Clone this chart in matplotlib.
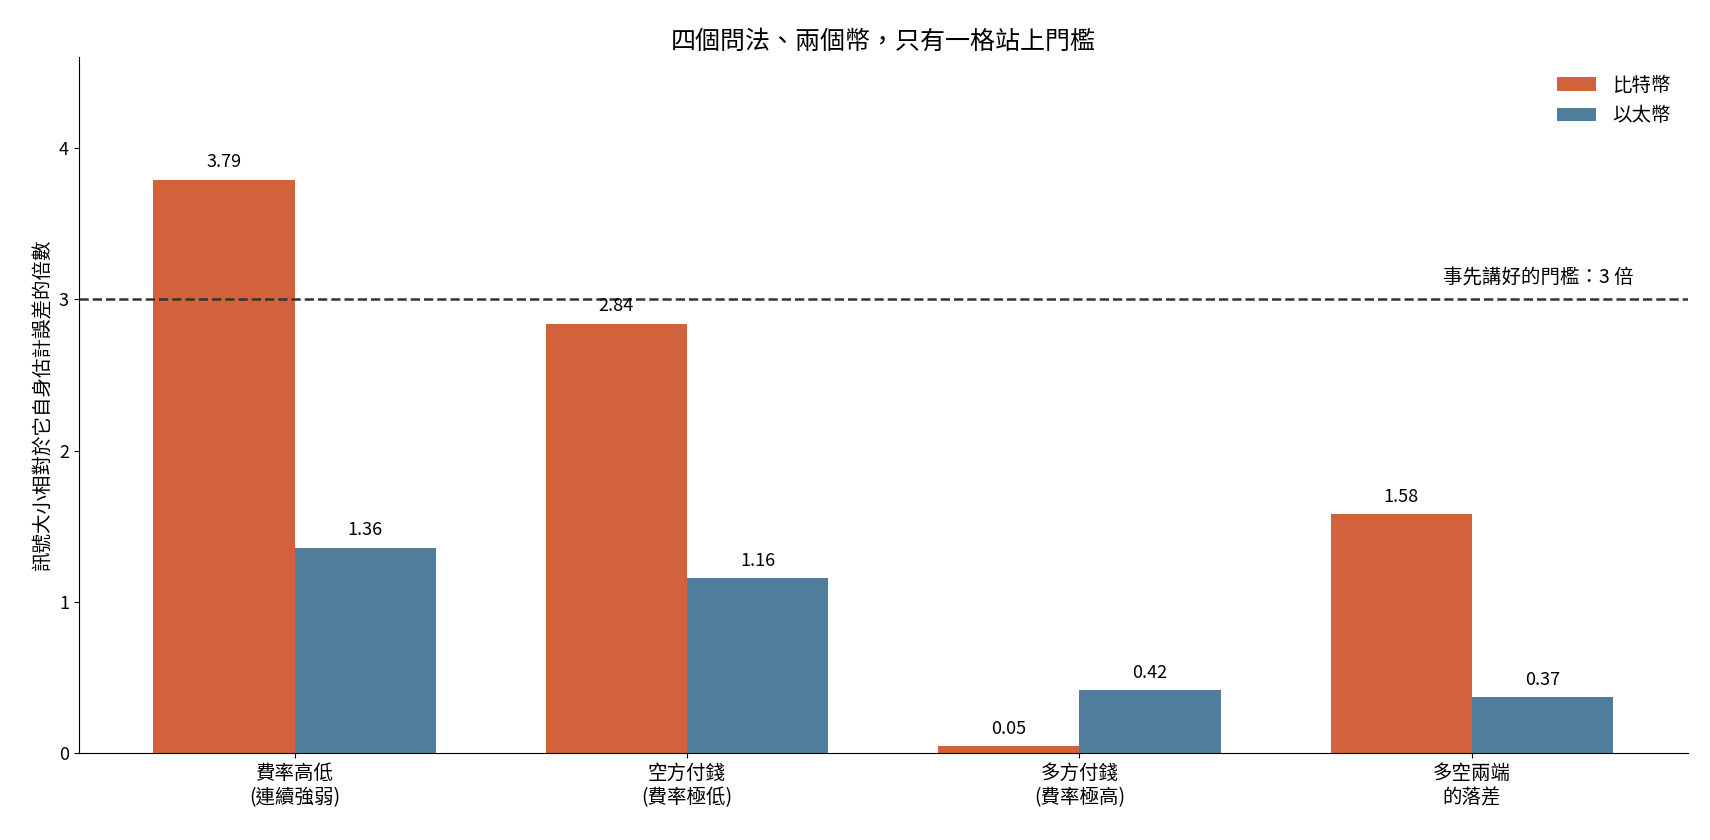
import matplotlib
matplotlib.use("Agg")
import matplotlib.pyplot as plt
import numpy as np

plt.rcParams['font.family'] = ['Noto Sans CJK TC', 'DejaVu Sans']

categories = ["費率高低\n(連續強弱)", "空方付錢\n(費率極低)", "多方付錢\n(費率極高)", "多空兩端\n的落差"]
btc = [3.79, 2.84, 0.05, 1.58]
eth = [1.36, 1.16, 0.42, 0.37]
threshold = 3

fig = plt.figure(figsize=(17.1, 8.4), dpi=100)
ax = fig.add_axes([0.046, 0.103, 0.941, 0.829])
x = np.arange(len(categories))
w = 0.36
b1 = ax.bar(x - w/2, btc, w, color='#D2623C', label='比特幣')
b2 = ax.bar(x + w/2, eth, w, color='#4E7E9C', label='以太幣')
for bars, vals in ((b1, btc), (b2, eth)):
    for r, v in zip(bars, vals):
        ax.annotate(f"{v:.2f}", (r.get_x() + r.get_width()/2, v), xytext=(0, 6),
                    textcoords='offset points', ha='center', va='bottom', fontsize=13)
ax.axhline(threshold, color='#333333', linestyle='--', linewidth=1.8)
ax.text(3.17, threshold + 0.08, '事先講好的門檻：3 倍', ha='center', va='bottom', fontsize=14)
ax.set_xlim(-0.55, 3.55)
ax.set_ylim(0, 4.6)
ax.set_yticks([0, 1, 2, 3, 4])
ax.set_xticks(x)
ax.set_xticklabels(categories, fontsize=14)
ax.tick_params(axis='y', labelsize=13)
ax.set_ylabel('訊號大小相對於它自身估計誤差的倍數', fontsize=14)
ax.set_title('四個問法、兩個幣，只有一格站上門檻', fontsize=18)
ax.spines['top'].set_visible(False)
ax.spines['right'].set_visible(False)
ax.legend(loc='upper right', frameon=False, fontsize=14)
fig.savefig('out.png')
